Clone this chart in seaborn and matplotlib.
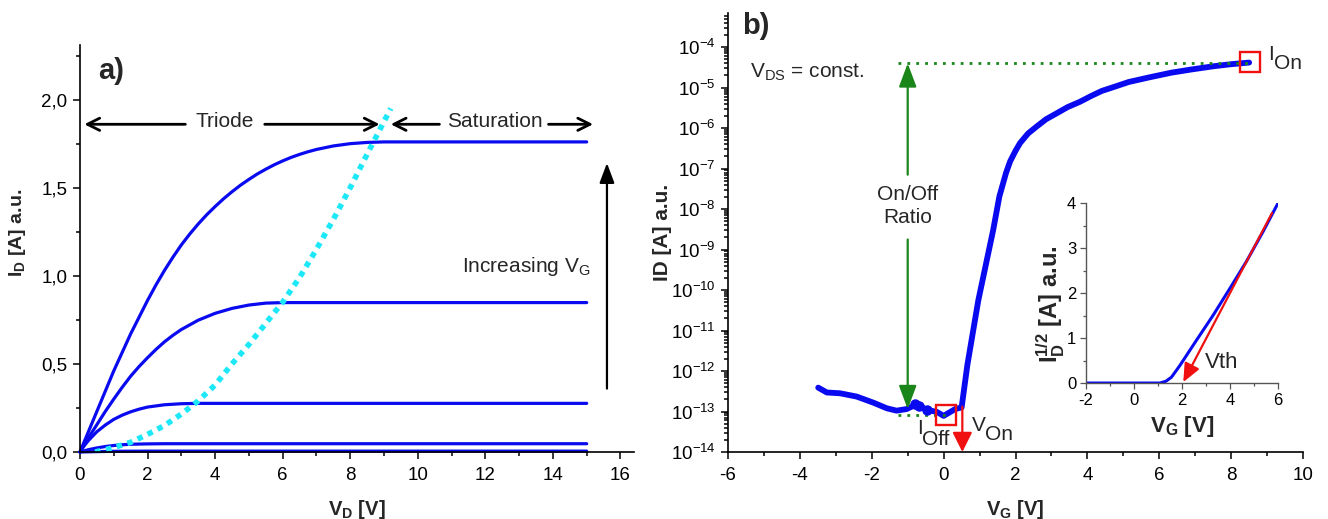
import numpy as np
import pandas as pd
import matplotlib
matplotlib.use("Agg")
import matplotlib.pyplot as plt
import seaborn as sns
from matplotlib.ticker import MultipleLocator, FixedLocator, LogLocator, NullFormatter

sns.set_style("ticks")
plt.rcParams['font.family'] = ['Liberation Sans', 'DejaVu Sans']
plt.rcParams['mathtext.fontset'] = 'custom'
plt.rcParams['mathtext.rm'] = 'Liberation Sans'
plt.rcParams['mathtext.it'] = 'Liberation Sans:italic'
plt.rcParams['mathtext.bf'] = 'Liberation Sans:bold'
plt.rcParams['axes.edgecolor'] = 'black'
plt.rcParams['xtick.color'] = 'black'
plt.rcParams['ytick.color'] = 'black'
plt.rcParams['axes.unicode_minus'] = False

# ---------------- data: panel a (output characteristics) ----------------
vd_c1 = [0, 0.25, 0.5, 0.75, 1, 1.25, 1.5, 1.75, 2, 2.25, 2.5, 2.75, 3, 3.25, 3.5, 3.75,
         4, 4.25, 4.5, 4.75, 5, 5.25, 5.5, 5.75, 6, 6.25, 6.5, 6.75, 7, 7.5, 8, 8.5, 9, 15]
id_c1 = [0, 0.115, 0.23, 0.345, 0.46, 0.565, 0.67, 0.765, 0.86, 0.948, 1.03, 1.105, 1.175,
         1.237, 1.294, 1.346, 1.393, 1.437, 1.477, 1.514, 1.547, 1.578, 1.605, 1.630, 1.652,
         1.672, 1.689, 1.704, 1.717, 1.737, 1.750, 1.757, 1.76, 1.76]
vd_c2 = [0, 0.25, 0.5, 0.75, 1, 1.25, 1.5, 1.75, 2, 2.25, 2.5, 2.75, 3, 3.5, 4, 4.5, 5, 5.5,
         6, 15]
id_c2 = [0, 0.08, 0.155, 0.23, 0.30, 0.367, 0.43, 0.485, 0.535, 0.582, 0.625, 0.662, 0.695,
         0.748, 0.787, 0.815, 0.834, 0.845, 0.848, 0.848]
vd_c3 = [0, 0.125, 0.25, 0.5, 0.75, 1, 1.25, 1.5, 1.75, 2, 2.5, 3, 3.5, 15]
id_c3 = [0, 0.035, 0.065, 0.115, 0.153, 0.185, 0.209, 0.228, 0.243, 0.255, 0.268, 0.274,
         0.276, 0.276]
vd_c4 = [0, 0.25, 0.5, 0.75, 1, 1.25, 1.5, 2, 2.5, 15]
id_c4 = [0, 0.013, 0.023, 0.031, 0.037, 0.041, 0.044, 0.046, 0.047, 0.047]
vd_c5 = [0, 1, 2, 15]
id_c5 = [0, 0.004, 0.005, 0.005]
vd_sat = [0.45, 1.0, 1.5, 2.0, 2.5, 3.0, 3.5, 4.0, 4.5, 5.0, 5.5, 6.0, 6.5, 7.0, 7.5, 8.0, 8.5, 9.2]
id_sat = [0.0, 0.025, 0.055, 0.10, 0.15, 0.215, 0.29, 0.38, 0.50, 0.61, 0.73, 0.85, 0.99, 1.15,
          1.32, 1.50, 1.69, 1.95]
a_xticks = [0, 2, 4, 6, 8, 10, 12, 14, 16]
a_yticks = [0.0, 0.5, 1.0, 1.5, 2.0]
a_yticklabels = ["0,0", "0,5", "1,0", "1,5", "2,0"]

# ---------------- data: panel b (transfer curve) ----------------
vg_tr = [-3.49, -3.25, -2.88, -2.42, -1.96, -1.58, -1.31, -1.03, -0.75, -0.47, -0.19, 0.0,
         0.32, 0.50, 0.66, 0.965, 1.38, 1.55, 1.735, 1.85, 2.0, 2.125, 2.35, 2.59, 2.85,
         3.15, 3.45, 3.79, 4.1, 4.4, 4.75, 5.15, 5.7, 6.33, 6.9, 7.52, 8.0, 8.5]
id_tr = [3.89e-13, 2.95e-13, 2.82e-13, 2.34e-13, 1.66e-13, 1.20e-13, 1.05e-13, 1.15e-13,
         1.51e-13, 1.10e-13, 9.8e-14, 7.8e-14, 1.15e-13, 1.26e-13, 1.41e-12, 5.6e-11,
         3.09e-9, 2.04e-8, 7.8e-8, 1.51e-7, 2.75e-7, 4.27e-7, 7.4e-7, 1.10e-6, 1.66e-6,
         2.34e-6, 3.31e-6, 4.47e-6, 6.2e-6, 8.3e-6, 1.05e-5, 1.38e-5, 1.78e-5, 2.34e-5,
         2.82e-5, 3.39e-5, 3.80e-5, 4.17e-5]
vg_blobs = [-0.80, -0.68, -0.47]
id_blobs = [1.51e-13, 1.35e-13, 1.12e-13]
b_xticks = [-6, -4, -2, 0, 2, 4, 6, 8, 10]
b_ydecades = [-14, -13, -12, -11, -10, -9, -8, -7, -6, -5, -4]
ion_point = (8.53, 4.36e-5)
ioff_point = (0.075, 8.1e-14)

# ---------------- data: inset (sqrt(ID) vs VG) ----------------
vg_sq = [-2, 1.08, 1.33, 1.56, 1.91, 2.6, 3.3, 3.99, 4.68, 5.38, 6.0]
sqid = [0, 0, 0.04, 0.13, 0.39, 0.95, 1.51, 2.10, 2.70, 3.37, 4.0]
i_xticks = [-2, 0, 2, 4, 6]
i_yticks = [0, 1, 2, 3, 4]

BLUE = '#0A0AF0'
CYAN = '#1CE8F8'
GREEN = '#1A861A'
RED = '#F01010'

fig = plt.figure(figsize=(13.28, 5.19), dpi=100)
axA = fig.add_axes([0.0602, 0.1291, 0.4172, 0.7842])
axB = fig.add_axes([0.5482, 0.1291, 0.4330, 0.8459])
axI = fig.add_axes([0.8178, 0.2620, 0.1446, 0.3468])

# ======================= panel a =======================
curves = [(vd_c1, id_c1), (vd_c2, id_c2), (vd_c3, id_c3), (vd_c4, id_c4), (vd_c5, id_c5)]
df_out = pd.concat([pd.DataFrame({'VD': v, 'ID': i, 'curve': k}) for k, (v, i) in enumerate(curves)],
                   ignore_index=True)
sns.lineplot(data=df_out, x='VD', y='ID', units='curve', estimator=None, sort=False,
             color=BLUE, lw=2.3, ax=axA, legend=False)
for ln in axA.lines:
    ln.set_clip_on(False)
    ln.set_solid_joinstyle('round')
sns.lineplot(x=vd_sat, y=id_sat, sort=False, color=CYAN, lw=4, ax=axA, legend=False)
axA.lines[-1].set_linestyle((0, (1, 1)))

axA.set_xlim(0, 16.4)
axA.set_ylim(0, 2.31)
axA.xaxis.set_major_locator(FixedLocator(a_xticks))
axA.xaxis.set_minor_locator(MultipleLocator(1))
axA.yaxis.set_major_locator(FixedLocator(a_yticks))
axA.set_yticklabels(a_yticklabels)
axA.yaxis.set_minor_locator(MultipleLocator(0.25))
sns.despine(ax=axA)

arr_kw = dict(arrowstyle='->', lw=2, color='black', mutation_scale=22, shrinkA=0, shrinkB=0)
axA.annotate('', xy=(0.13, 1.86), xytext=(3.12, 1.86), arrowprops=arr_kw)
axA.annotate('', xy=(8.87, 1.86), xytext=(5.47, 1.86), arrowprops=arr_kw)
axA.annotate('', xy=(9.2, 1.86), xytext=(10.64, 1.86), arrowprops=arr_kw)
axA.annotate('', xy=(15.19, 1.86), xytext=(13.87, 1.86), arrowprops=arr_kw)
axA.text(4.27, 1.875, 'Triode', ha='center', va='center', fontsize=15)
axA.text(12.27, 1.875, 'Saturation', ha='center', va='center', fontsize=15)
axA.annotate('', xy=(15.6, 1.64), xytext=(15.6, 0.36),
             arrowprops=dict(arrowstyle='-|>,head_length=0.8,head_width=0.3', lw=1.6,
                             color='black', mutation_scale=15, shrinkA=0, shrinkB=0))
axA.text(15.1, 1.05, r'Increasing V$_{\mathregular{G}}$', ha='right', va='center', fontsize=15)
axA.text(0.55, 2.16, 'a)', ha='left', va='center', fontsize=21, fontweight='bold')

axA.set_xlabel(r'V$_{\mathbf{D}}$ [V]', fontsize=14.5, fontweight='bold')
axA.set_ylabel(r'I$_{\mathbf{D}}$ [A] a.u.', fontsize=14, fontweight='bold')
axA.xaxis.set_label_coords(0.5, -0.113)
axA.xaxis.label.set_va('top')
axA.yaxis.set_label_coords(-0.094, 0.538)

# ======================= panel b =======================
axB.set_yscale('log')
sns.lineplot(x=vg_tr, y=id_tr, sort=False, color=BLUE, lw=4.2, ax=axB, legend=False)
axB.lines[-1].set_solid_joinstyle('round')
axB.lines[-1].set_solid_capstyle('round')
axB.plot(vg_blobs, id_blobs, 'o', color=BLUE, ms=6.5, zorder=3)
axB.set_xlim(-6, 10)
axB.set_ylim(1e-14, 10 ** -3.155)
axB.xaxis.set_major_locator(FixedLocator(b_xticks))
axB.xaxis.set_minor_locator(MultipleLocator(1))
axB.yaxis.set_major_locator(FixedLocator([10.0 ** d for d in b_ydecades]))
axB.set_yticklabels([r'$\mathregular{10^{%d}}$' % d for d in b_ydecades])
axB.yaxis.set_minor_locator(LogLocator(base=10, subs=np.arange(2, 10), numticks=100))
axB.yaxis.set_minor_formatter(NullFormatter())
sns.despine(ax=axB)

# on/off guide lines
axB.plot([-1.26, 8.5], [4.07e-5, 4.07e-5], color=GREEN, lw=2, linestyle=(0, (1, 2.2)))
axB.plot([-1.26, 0.1], [8.1e-14, 8.1e-14], color=GREEN, lw=2, linestyle=(0, (1, 2.2)))
g_kw = dict(arrowstyle='-|>,head_length=0.8,head_width=0.3', lw=1.6, color=GREEN,
            mutation_scale=18, shrinkA=0, shrinkB=0)
axB.annotate('', xy=(-1.0, 10 ** -4.40), xytext=(-1.0, 10 ** -7.15), arrowprops=g_kw)
axB.annotate('', xy=(-1.0, 10 ** -12.94), xytext=(-1.0, 10 ** -8.75), arrowprops=g_kw)
axB.text(-1.0, 10 ** -7.92, 'On/Off\nRatio', ha='center', va='center', fontsize=15,
         linespacing=1.25)

# red markers and V_On arrow
axB.plot([ion_point[0], ioff_point[0]], [ion_point[1], ioff_point[1]], 's', ms=14,
         mfc='none', mec=RED, mew=1.7, zorder=4)
axB.annotate('', xy=(0.52, 1e-14), xytext=(0.52, 10 ** -12.88),
             arrowprops=dict(arrowstyle='-|>,head_length=0.8,head_width=0.4', lw=1.6, color=RED,
                             mutation_scale=15, shrinkA=0, shrinkB=0), annotation_clip=False)

axB.text(9.03, 10 ** -4.17, 'I', ha='left', va='center', fontsize=15)
axB.text(9.19, 10 ** -4.40, 'On', ha='left', va='center', fontsize=15)
axB.text(-0.74, 10 ** -13.43, 'I', ha='left', va='center', fontsize=15)
axB.text(-0.60, 10 ** -13.68, 'Off', ha='left', va='center', fontsize=15)
axB.text(0.80, 10 ** -13.35, 'V', ha='left', va='center', fontsize=15)
axB.text(1.15, 10 ** -13.58, 'On', ha='left', va='center', fontsize=15)
axB.text(-5.4, 10 ** -4.62, r'V$_{\mathregular{DS}}$ = const.', ha='left', va='center', fontsize=15)
axB.text(-5.6, 10 ** -3.48, 'b)', ha='left', va='center', fontsize=21, fontweight='bold')

axB.set_xlabel(r'V$_{\mathbf{G}}$ [V]', fontsize=14.5, fontweight='bold')
axB.set_ylabel('ID [A] a.u.', fontsize=15, fontweight='bold')
axB.xaxis.set_label_coords(0.5, -0.105)
axB.xaxis.label.set_va('top')
axB.yaxis.set_label_coords(-0.097, 0.5)

# ======================= inset =======================
sns.lineplot(x=vg_sq, y=sqid, sort=False, color=BLUE, lw=2.2, ax=axI, legend=False)
axI.lines[-1].set_solid_joinstyle('round')
axI.annotate('', xy=(2.05, 0.02), xytext=(5.75, 3.78),
             arrowprops=dict(arrowstyle='-|>,head_length=0.8,head_width=0.35', lw=1.6, color=RED,
                             mutation_scale=14, shrinkA=0, shrinkB=0))
axI.text(2.95, 0.45, 'Vth', ha='left', va='center', fontsize=16)
axI.set_xlim(-2, 6)
axI.set_ylim(0, 4)
axI.xaxis.set_major_locator(FixedLocator(i_xticks))
axI.xaxis.set_minor_locator(MultipleLocator(1))
axI.yaxis.set_major_locator(FixedLocator(i_yticks))
axI.yaxis.set_minor_locator(MultipleLocator(0.5))
sns.despine(ax=axI)
axI.patch.set_alpha(0)
for sp in ['left', 'bottom']:
    axI.spines[sp].set_color('#555555')
    axI.spines[sp].set_linewidth(1.0)
axI.tick_params(which='both', direction='out', color='#555555', width=0.9, labelsize=12, pad=3)
axI.tick_params(which='major', length=4)
axI.tick_params(which='minor', length=2)
axI.set_xlabel(r'V$_{\mathbf{G}}$ [V]', fontsize=16, fontweight='bold')
axI.set_ylabel(r'I$_{\mathbf{D}}^{\mathbf{1/2}}$ [A] a.u.', fontsize=17, fontweight='bold')
axI.xaxis.set_label_coords(0.5, -0.17)
axI.xaxis.label.set_va('top')
axI.yaxis.set_label_coords(-0.10, 0.44)

for ax in (axA, axB):
    for sp in ['left', 'bottom']:
        ax.spines[sp].set_linewidth(1.2)
    ax.tick_params(which='both', direction='out', width=1.1, labelsize=13.5)
    ax.tick_params(which='major', length=5)
    ax.tick_params(which='minor', length=3)
    ax.tick_params(axis='x', pad=6)
    ax.tick_params(axis='y', pad=4)

fig.savefig('out.png', dpi=100)
